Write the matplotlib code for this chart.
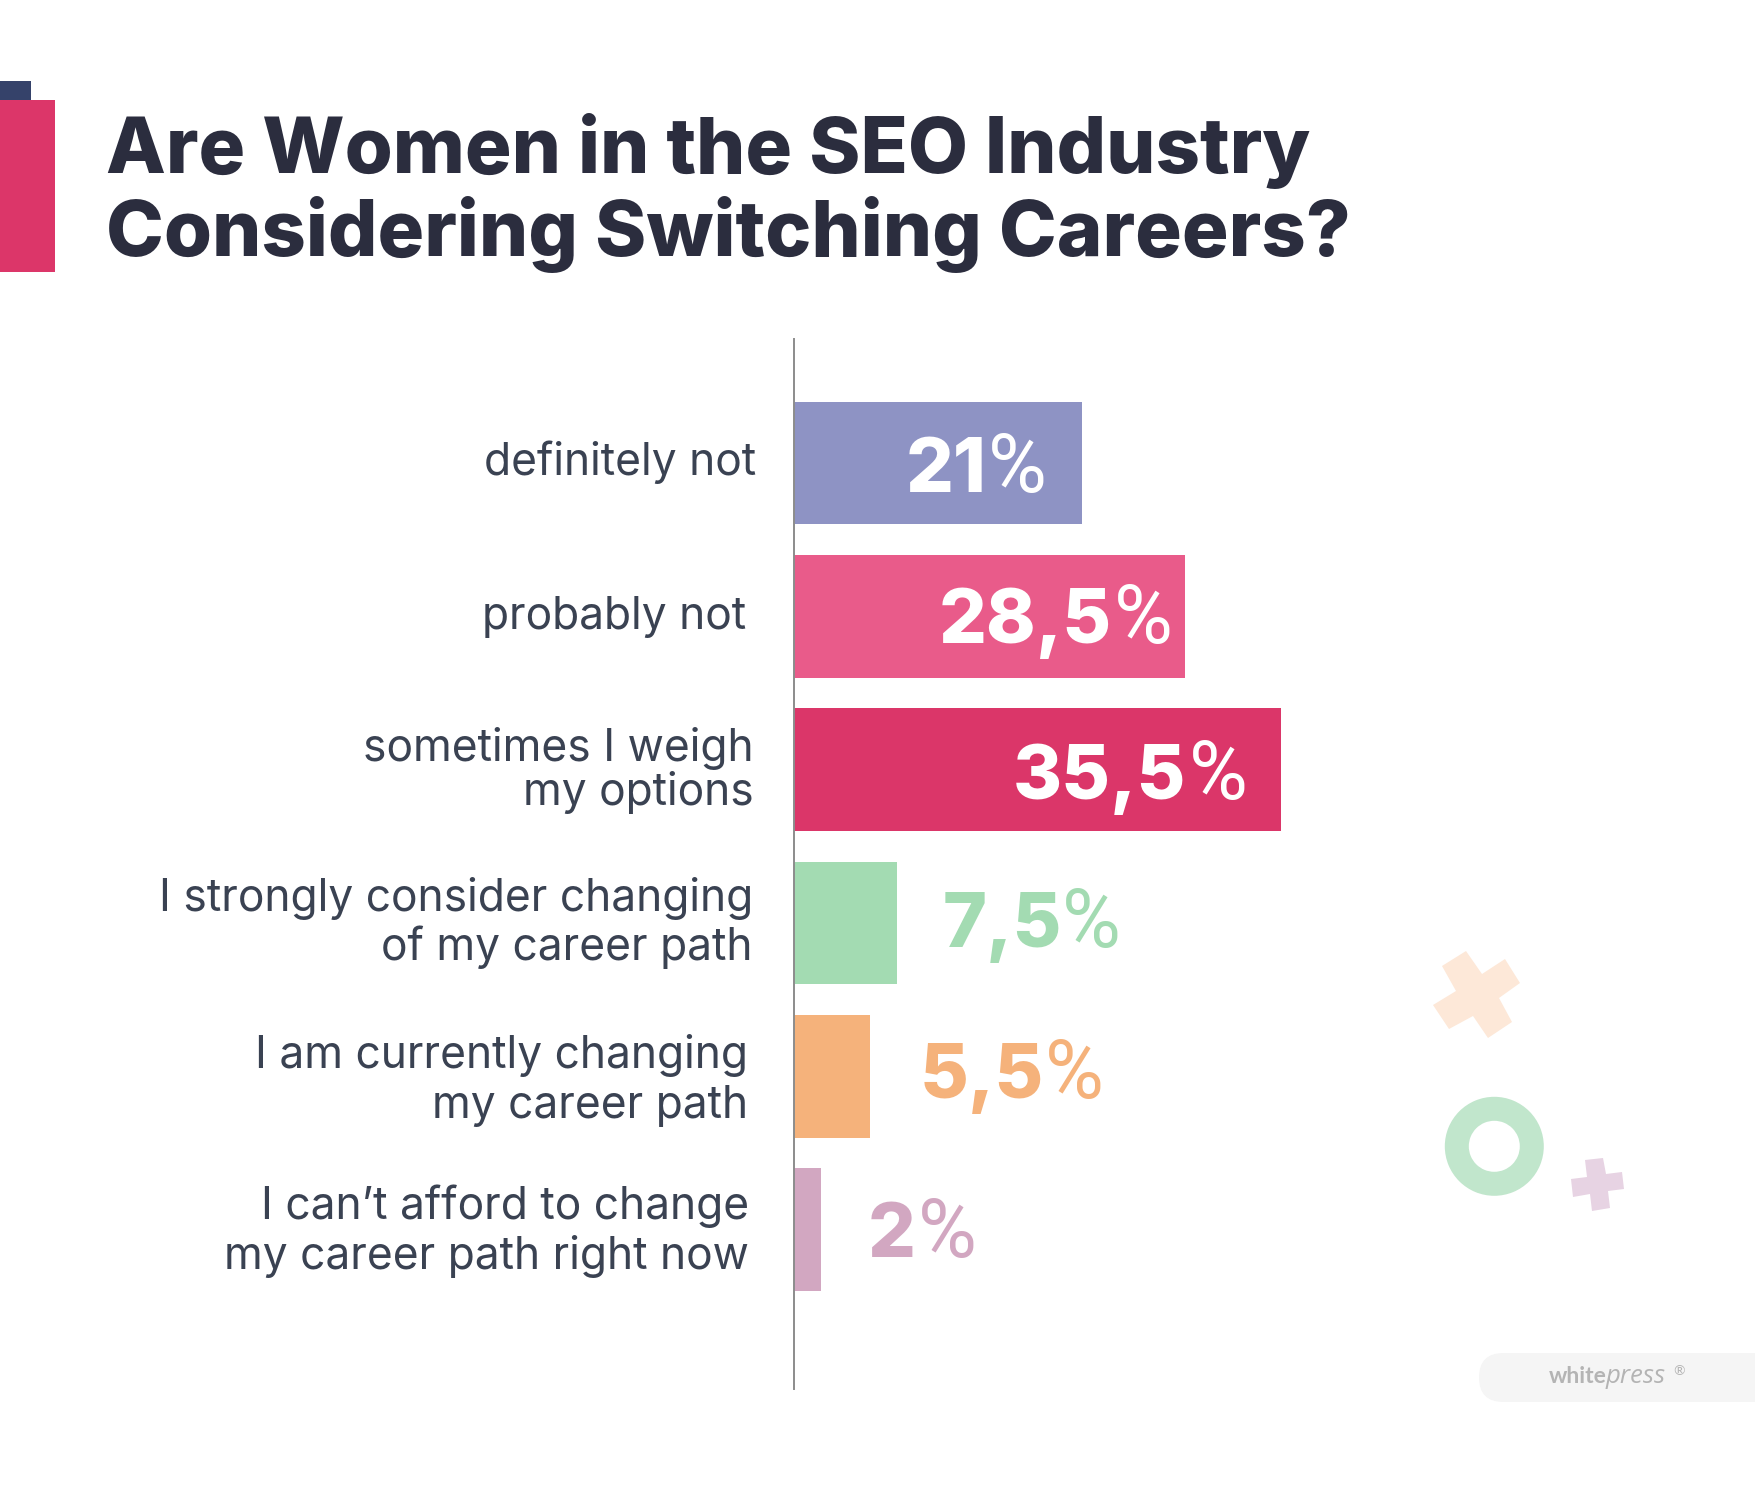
import matplotlib
matplotlib.use("Agg")
import matplotlib.pyplot as plt
from matplotlib.patches import Polygon, Rectangle, FancyBboxPatch, Wedge

W, H = 1755, 1486
DPI = 100

title_lines = ["Are Women in the SEO Industry", "Considering Switching Careers?"]
categories = ["definitely not", "probably not", "sometimes I weigh\nmy options",
              "I strongly consider changing\nof my career path",
              "I am currently changing\nmy career path",
              "I can’t afford to change\nmy career path right now"]
values = [21, 28.5, 35.5, 7.5, 5.5, 2]
value_labels = ["21", "28,5", "35,5", "7,5", "5,5", "2"]
bar_colors = ["#8E93C4", "#E95B8A", "#DB3669", "#A3DBB2", "#F5B27B", "#D2A7C1"]
label_colors = ["white", "white", "white", "#A3DBB2", "#F5B27B", "#D2A7C1"]

FONT = "Inter"
fig = plt.figure(figsize=(W / DPI, H / DPI), dpi=DPI, facecolor="white")

bg = fig.add_axes([0, 0, 1, 1], zorder=0)
bg.set_xlim(0, W); bg.set_ylim(H, 0); bg.axis("off")

ax = fig.add_axes([794 / W, 1 - 1389 / H, 549.2 / W, 1050 / H], zorder=1)
ax.patch.set_alpha(0)
ax.set_xlim(0, 40)
ax.set_ylim(6.04, -0.809)
for s in ["top", "right", "bottom"]:
    ax.spines[s].set_visible(False)
ax.spines["left"].set_color("#8C8C8C")
ax.spines["left"].set_linewidth(1.4)
ax.set_xticks([]); ax.set_yticks([])
ax.barh(range(len(values)), values, height=0.8, color=bar_colors)

fg = fig.add_axes([0, 0, 1, 1], zorder=2)
fg.set_xlim(0, W); fg.set_ylim(H, 0); fg.axis("off")
fg.patch.set_alpha(0)

# accent blocks
bg.add_patch(Rectangle((0, 81), 31, 20, color="#35426A", lw=0))
bg.add_patch(Rectangle((0, 100), 55, 172, color="#DC3669", lw=0))

# title
for t, y in zip(title_lines, [173, 256]):
    fg.text(106, y, t, fontsize=56, fontweight="heavy", family=FONT, color="#2B2D3E",
            ha="left", va="baseline")

# category labels
label_right = [756, 746, 754, 753, 748, 749]
label_base = [[475], [629], [761, 805], [911, 960], [1068, 1118], [1219, 1269]]
for c, r, bs in zip(categories, label_right, label_base):
    for l, yy in zip(c.split("\n"), bs):
        fg.text(r, yy, l, fontsize=31.9, family=FONT, fontweight="normal", color="#3A4252",
                ha="right", va="baseline")

# value labels
val_left = [906, 939, 1013, 943, 920, 868]
val_pct_right = [1047, 1173, 1248, 1121, 1104, 977]
val_base = [492, 643, 799, 947, 1098, 1257]
for v, c, l, p, b in zip(value_labels, label_colors, val_left, val_pct_right, val_base):
    fg.text(l, b, v, fontsize=54, fontweight="heavy", family=FONT, color=c, ha="left", va="baseline")
    fg.text(p, b, "%", fontsize=58, fontweight="normal", family="Roboto", color=c, ha="right", va="baseline")

# decorative shapes
big_cross = [(1466, 951), (1482, 974), (1505, 959), (1520, 983), (1499, 998), (1512, 1022),
             (1488, 1038), (1473, 1016), (1449, 1029), (1433, 1005), (1456, 991), (1442, 966)]
small_cross = [(1585, 1160), (1603, 1158), (1606, 1174), (1622, 1172), (1624, 1189), (1608, 1191),
               (1610, 1208), (1592, 1211), (1590, 1194), (1573, 1197), (1571, 1179), (1587, 1177)]
bg.add_patch(Polygon(big_cross, closed=True, color="#FDE8D8", lw=0))
bg.add_patch(Polygon(small_cross, closed=True, color="#E7D3E3", lw=0))
bg.add_patch(Wedge((1494.3, 1146.3), 49.5, 0, 360, width=24, color="#C1E6CC", lw=0))

# watermark
bg.add_patch(FancyBboxPatch((1479, 1353), 320, 49, boxstyle="round,pad=0,rounding_size=24.5",
                            fc="#F5F5F5", ec="none", mutation_aspect=1))
fg.text(1549, 1383, "white", fontsize=16.5, fontweight="bold", family="Lato", color="#B4B4B4", va="baseline")
fg.text(1606, 1383, "press", fontsize=18.5, fontstyle="italic", fontweight="normal", family="Open Sans",
        color="#B4B4B4", va="baseline")
fg.text(1673, 1375, "®", fontsize=10, family="Lato", color="#B4B4B4", va="baseline")

fig.savefig("out.png", dpi=DPI)
